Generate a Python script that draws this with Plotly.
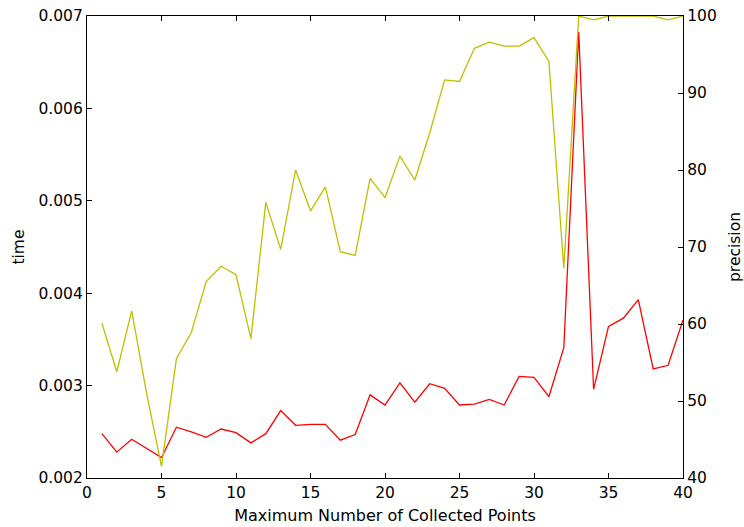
import plotly.graph_objects as go

# Maximum number of collected points (x axis)
points = list(range(1, 41))

# Time per run (left axis)
time_vals = [
    0.00248, 0.00228, 0.00242, 0.00232, 0.00222, 0.00255, 0.00250, 0.00244,
    0.00253, 0.00249, 0.00238, 0.00248, 0.00273, 0.00257, 0.00258, 0.00258,
    0.00241, 0.00247, 0.00290, 0.00279, 0.00303, 0.00282, 0.00302, 0.00297,
    0.00279, 0.00280, 0.00285, 0.00279, 0.00310, 0.00309, 0.00288, 0.00341,
    0.00683, 0.00296, 0.00364, 0.00373, 0.00393, 0.00318, 0.00322, 0.00371,
]

# Precision (right axis)
precision_vals = [
    60.1, 53.8, 61.7, 51.0, 41.5, 55.5, 58.9, 65.5,
    67.5, 66.4, 58.1, 75.8, 69.7, 80.0, 74.7, 77.8,
    69.4, 68.9, 78.9, 76.4, 81.8, 78.7, 84.8, 91.7,
    91.5, 95.8, 96.6, 96.1, 96.1, 97.2, 94.1, 67.2,
    100.0, 99.5, 100.0, 100.0, 100.0, 100.0, 99.5, 100.0,
]

x_ticks = [0, 5, 10, 15, 20, 25, 30, 35, 40]
time_ticks = [0.002, 0.003, 0.004, 0.005, 0.006, 0.007]
precision_ticks = [40, 50, 60, 70, 80, 90, 100]

FONT = "DejaVu Sans"

fig = go.Figure()
fig.add_trace(go.Scatter(
    x=points, y=time_vals, mode="lines", name="time",
    line=dict(color="#ff0000", width=1.3), yaxis="y",
))
fig.add_trace(go.Scatter(
    x=points, y=precision_vals, mode="lines", name="precision",
    line=dict(color="#bfbf00", width=1.3), yaxis="y2",
))

axis_common = dict(
    showgrid=False, zeroline=False, showline=True, linecolor="black",
    linewidth=1.2, ticks="inside", ticklen=5, tickwidth=1, tickcolor="black",
    tickfont=dict(family=FONT, size=15.5, color="black"),
    automargin=False,
)

fig.update_layout(
    width=744, height=527,
    margin=dict(l=87, r=61, t=16, b=49),
    paper_bgcolor="white", plot_bgcolor="white",
    showlegend=False,
    font=dict(family=FONT, size=15.5, color="black"),
    xaxis=dict(
        range=[0, 40], tickvals=x_ticks, mirror="ticks",
        title=dict(text="Maximum Number of Collected Points",
                   font=dict(family=FONT, size=16), standoff=9),
        **axis_common,
    ),
    yaxis=dict(
        range=[0.002, 0.007], tickvals=time_ticks, tickformat=".3f",
        title=dict(text="time", font=dict(family=FONT, size=15.5), standoff=9),
        **axis_common,
    ),
    yaxis2=dict(
        range=[40, 100], tickvals=precision_ticks, overlaying="y", side="right",
        title=dict(text="precision", font=dict(family=FONT, size=15.5), standoff=14),
        **axis_common,
    ),
)

fig.write_html("out.html")
